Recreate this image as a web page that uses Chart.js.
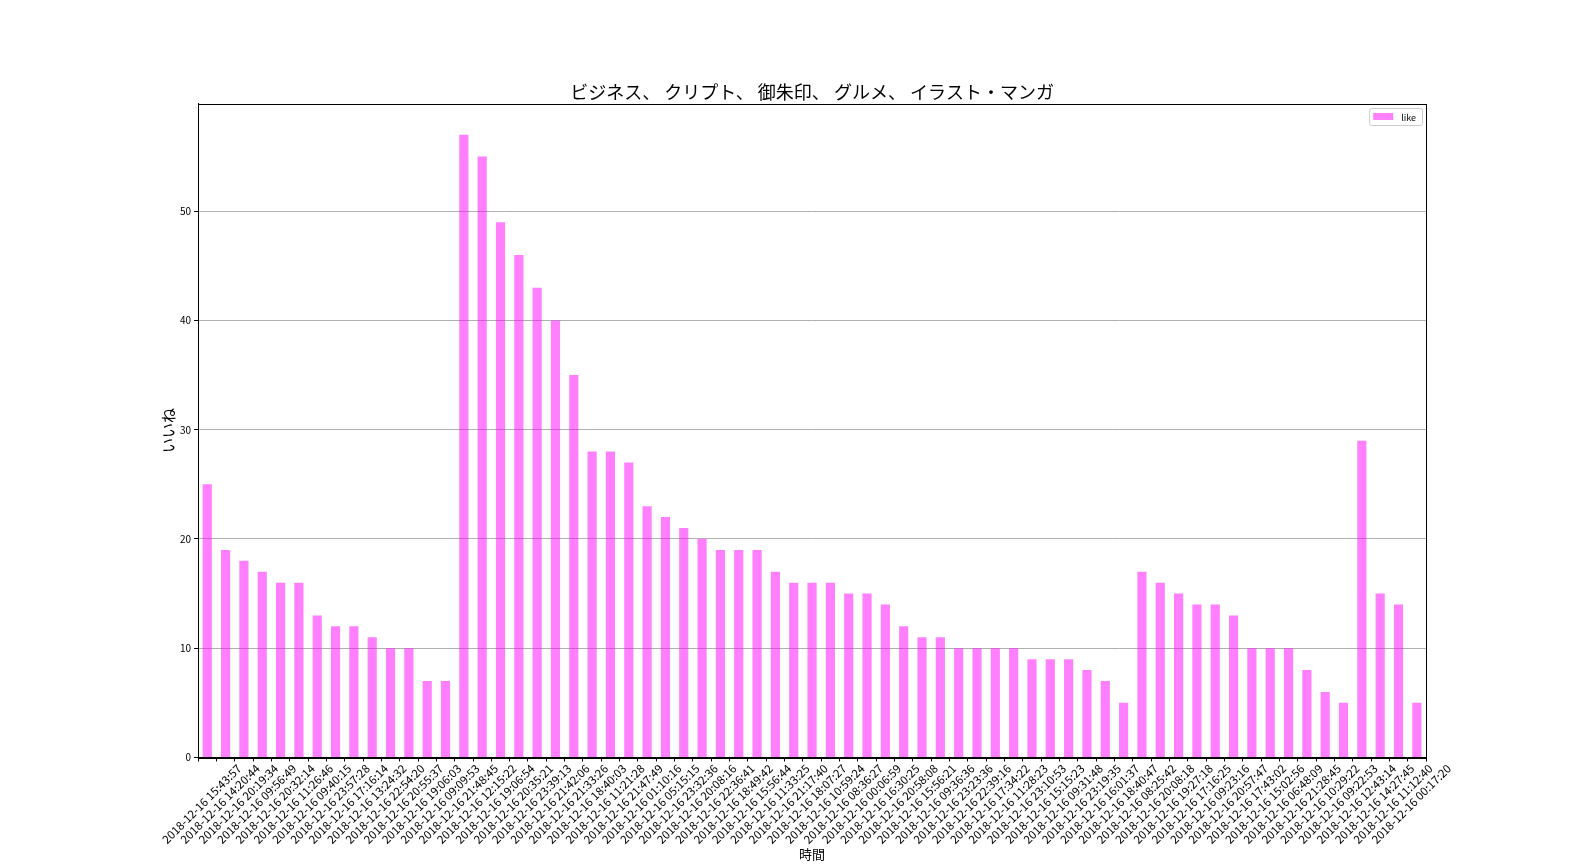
<!DOCTYPE html>
<html>
<head>
<meta charset="utf-8">
<script src="https://cdn.jsdelivr.net/npm/chart.js@4"></script>
<style>
  html, body { margin: 0; padding: 0; background: #fff; }
  #wrap { width: 1584px; height: 864px; }
</style>
</head>
<body>
<div id="wrap"><canvas id="myChart" width="1584" height="864"></canvas></div>
<script>
var times = ["15:43:57", "14:20:44", "20:19:34", "09:56:49", "20:32:14", "11:26:46", "09:40:15", "23:57:28",
    "17:16:14", "13:24:32", "22:54:20", "20:55:37", "19:06:03", "09:09:53", "21:48:45", "12:15:22",
    "19:06:54", "20:35:21", "23:39:13", "21:42:06", "21:33:26", "18:40:03", "11:21:28", "21:47:49",
    "01:10:16", "05:15:15", "23:32:36", "20:08:16", "22:36:41", "18:49:42", "15:56:44", "11:33:25",
    "21:17:40", "18:07:27", "10:59:24", "08:36:27", "00:06:59", "16:30:25", "20:58:08", "15:56:21",
    "09:36:36", "23:23:36", "22:39:16", "17:34:22", "11:28:23", "23:10:53", "15:15:23", "09:31:48",
    "23:19:35", "16:01:37", "18:40:47", "08:25:42", "20:08:18", "19:27:18", "17:16:25", "09:23:16",
    "20:57:47", "17:43:02", "15:02:56", "06:48:09", "21:28:45", "10:29:22", "09:22:53", "12:43:14",
    "14:27:45", "11:12:40", "00:17:20"];
var labels = times.map(function (t) { return "2018-12-16 " + t; });

var likes = [25, 19, 18, 17, 16, 16, 13, 12, 12, 11, 10, 10, 7, 7, 57, 55,
    49, 46, 43, 40, 35, 28, 28, 27, 23, 22, 21, 20, 19, 19, 19, 17,
    16, 16, 16, 15, 15, 14, 12, 11, 11, 10, 10, 10, 10, 9, 9, 9,
    8, 7, 5, 17, 16, 15, 14, 14, 13, 10, 10, 10, 8, 6, 5, 29,
    15, 14, 5];

var yTicks = [0, 10, 20, 30, 40, 50];
var font = "'Noto Sans CJK JP', 'DejaVu Sans', sans-serif";
var barColor = 'rgba(255, 0, 255, 0.5)';

// frame round the plot, and the matplotlib-style legend in the top right corner
var framePlugin = {
    id: 'frame',
    afterDraw: function (chart) {
        var c = chart.ctx, a = chart.chartArea;
        c.save();
        c.strokeStyle = '#000';
        c.lineWidth = 1;
        c.strokeRect(Math.round(a.left) + 0.5, Math.round(a.top) + 0.5,
            Math.round(a.right - a.left), Math.round(a.bottom - a.top));

        var ds = chart.data.datasets[0];
        c.font = '9px ' + font;
        var tw = c.measureText(ds.label).width;
        var w = 4 + 20 + 8 + tw + 6, h = 17;
        var x = Math.round(a.right) - 4 - w, y = Math.round(a.top) + 4;
        c.fillStyle = 'rgba(255,255,255,0.8)';
        c.strokeStyle = '#cccccc';
        c.beginPath();
        c.roundRect(x + 0.5, y + 0.5, w, h, 2);
        c.fill();
        c.stroke();
        c.fillStyle = ds.backgroundColor;
        c.fillRect(x + 4, y + 5, 20, 7);
        c.fillStyle = '#000';
        c.textBaseline = 'middle';
        c.fillText(ds.label, x + 32, y + h / 2 + 1);
        c.restore();
    }
};

Chart.defaults.font.family = font;
Chart.defaults.color = '#000';

var ctx = document.getElementById('myChart').getContext('2d');
var chart = new Chart(ctx, {
    type: 'bar',
    data: {
        labels: labels,
        datasets: [{
            label: 'like',
            data: likes,
            backgroundColor: barColor,
            borderWidth: 0,
            categoryPercentage: 1.0,
            barPercentage: 0.5
        }]
    },
    options: {
        responsive: false,
        animation: false,
        layout: { padding: { left: 159, right: 158, top: 8, bottom: 2 } },
        plugins: {
            title: {
                display: true,
                text: 'ビジネス、 クリプト、 御朱印、 グルメ、 イラスト・マンガ',
                fullSize: false,
                font: { size: 18, weight: 'normal' },
                padding: { top: 73, bottom: 1 }
            },
            legend: { display: false },
            tooltip: { enabled: false }
        },
        scales: {
            x: {
                offset: true,
                grid: { display: true, drawOnChartArea: false, tickLength: 4, tickColor: '#000' },
                border: { color: '#000' },
                ticks: { maxRotation: 45, minRotation: 45, autoSkip: false, font: { size: 11.5 },
                    padding: 0, labelOffset: 32 },
                title: { display: true, text: '時間', font: { size: 13 }, padding: { top: 0, bottom: 0 } }
            },
            y: {
                min: 0,
                max: 59.85,
                afterBuildTicks: function (axis) {
                    axis.ticks = yTicks.map(function (v) { return { value: v }; });
                },
                grid: { color: '#b0b0b0', tickColor: '#000', tickLength: 4 },
                border: { color: '#000' },
                ticks: { font: { size: 10 }, padding: 3 },
                title: { display: true, text: 'いいね', font: { size: 15 }, padding: { top: 0, bottom: 0 } }
            }
        }
    },
    plugins: [framePlugin]
});
</script>
</body>
</html>
